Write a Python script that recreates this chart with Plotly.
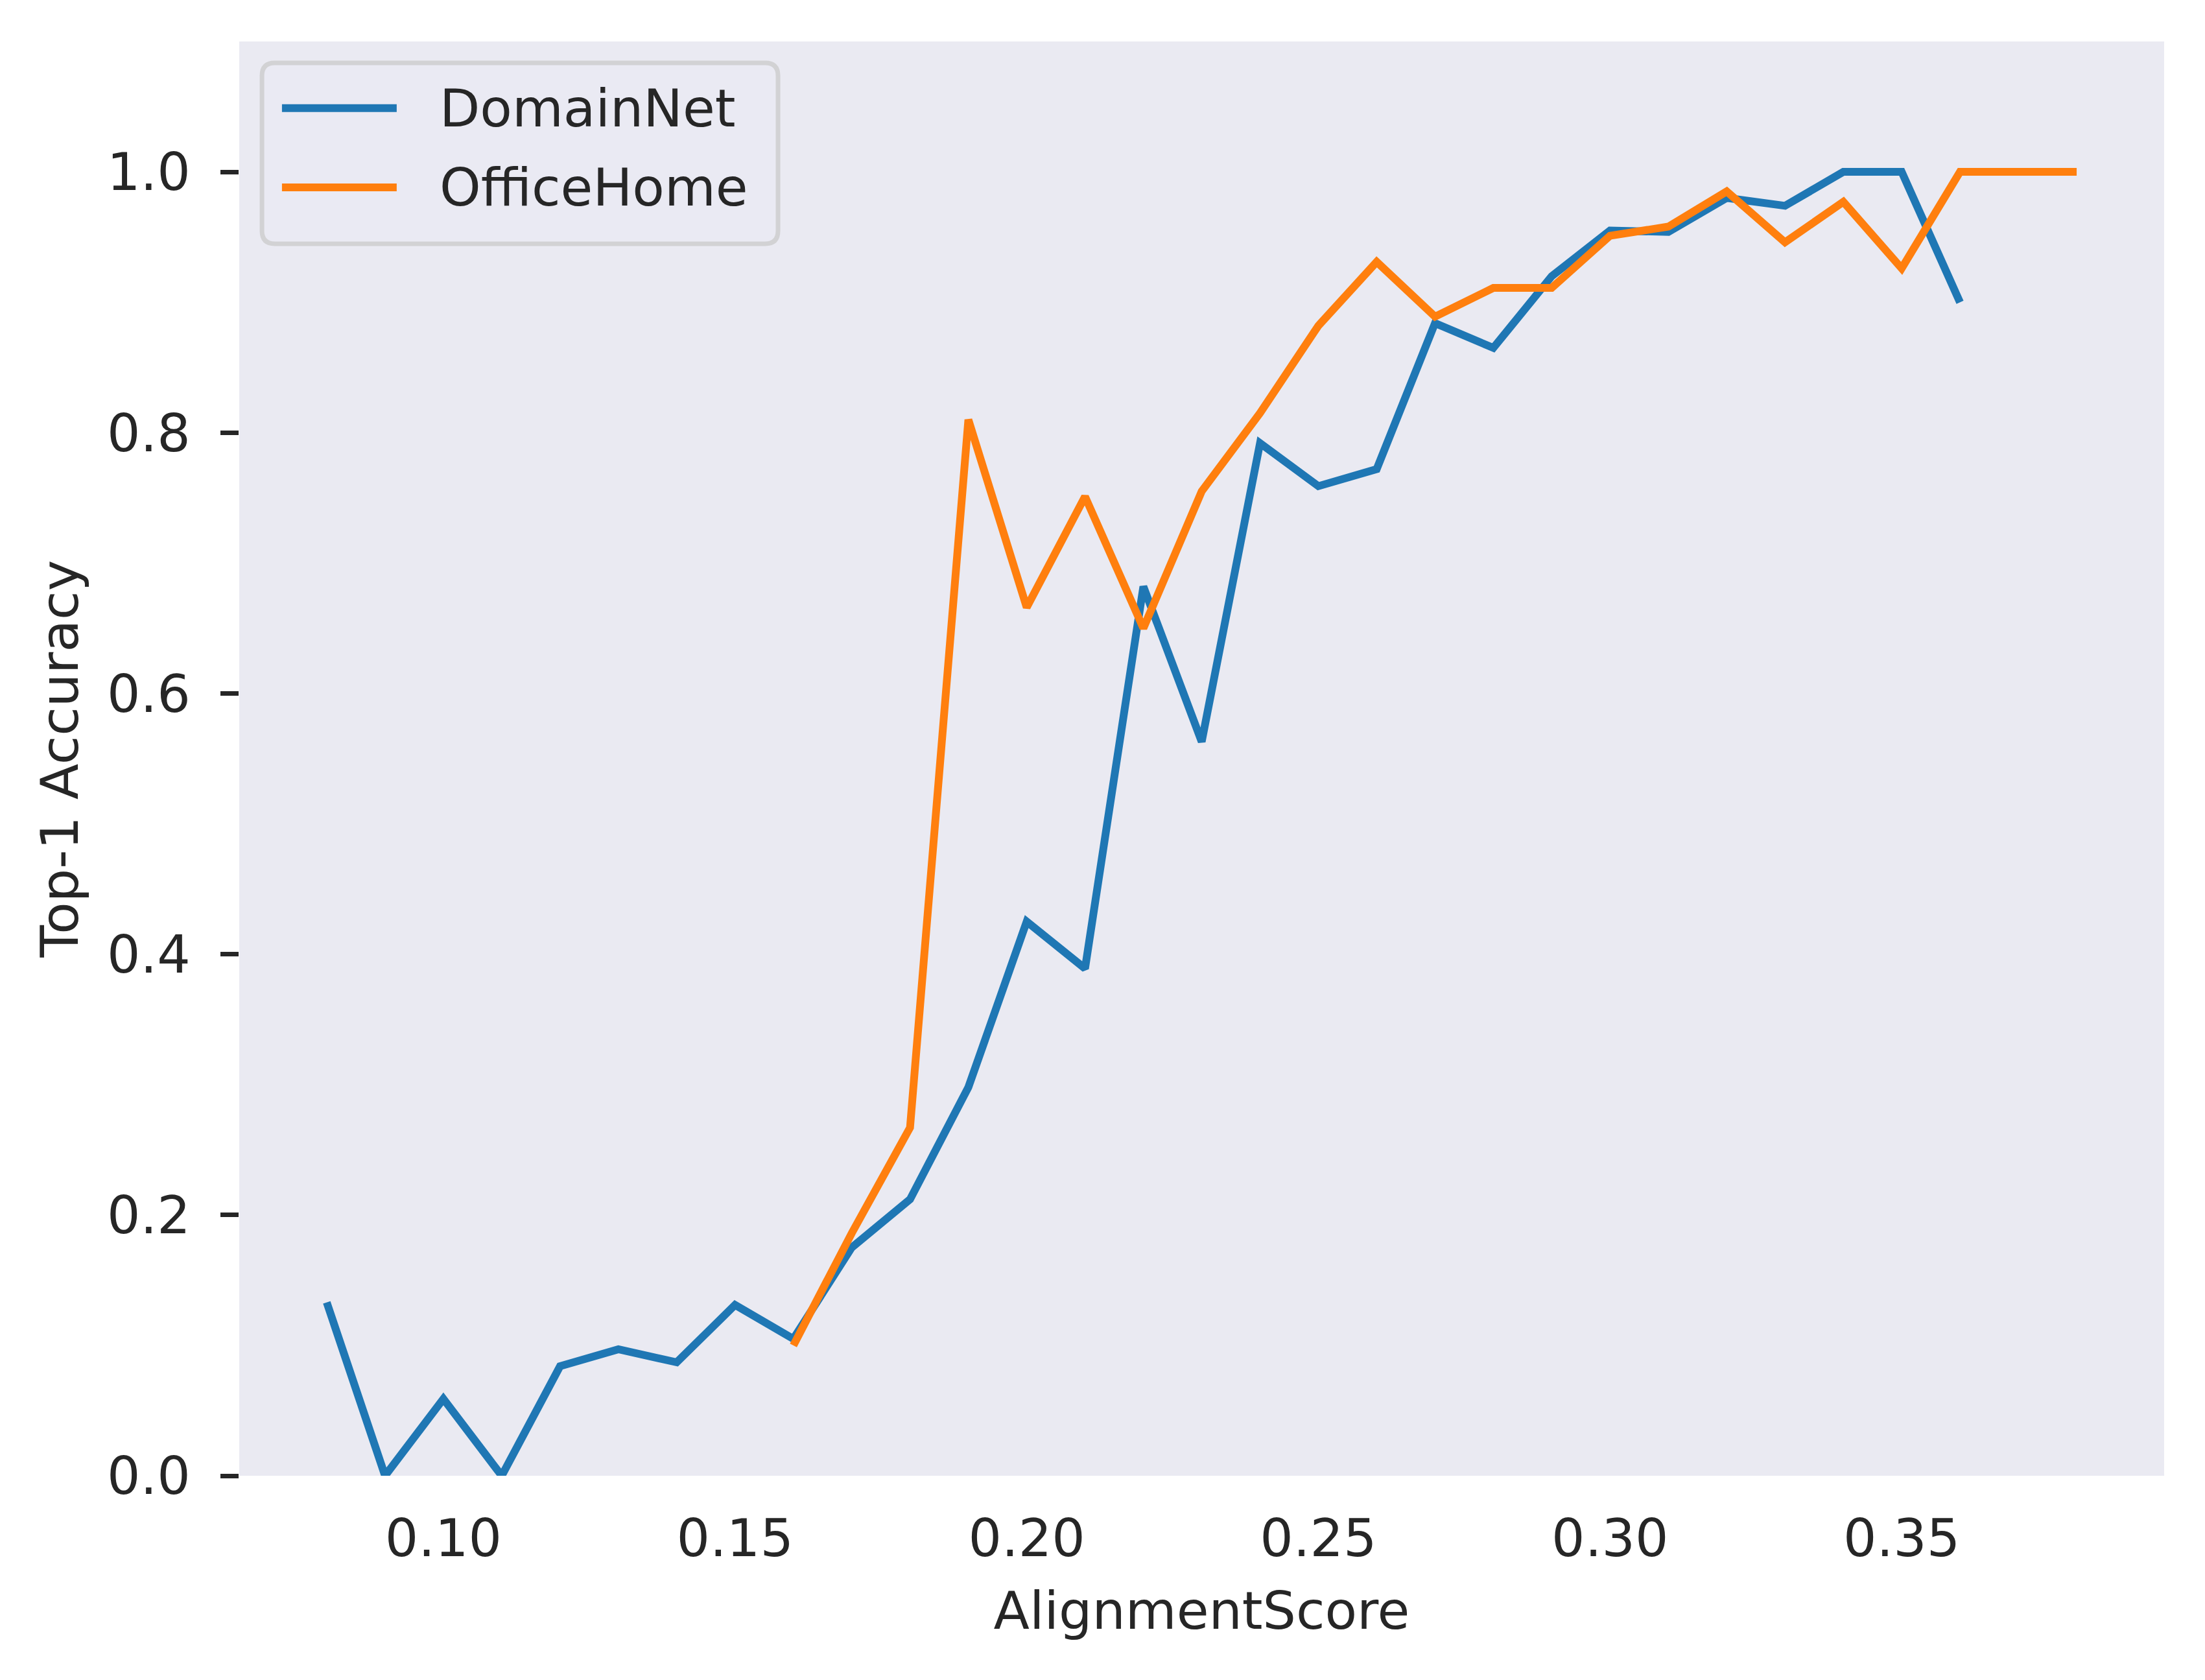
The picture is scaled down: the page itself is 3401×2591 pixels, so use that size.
import plotly.graph_objects as go

# alignment score bins
domainnet_x = [0.08, 0.09, 0.10, 0.11, 0.12, 0.13, 0.14, 0.15, 0.16, 0.17,
               0.18, 0.19, 0.20, 0.21, 0.22, 0.23, 0.24, 0.25, 0.26, 0.27,
               0.28, 0.29, 0.30, 0.31, 0.32, 0.33, 0.34, 0.35, 0.36]
domainnet_acc = [0.133, 0.0, 0.059, 0.0, 0.084, 0.097, 0.087, 0.131, 0.105, 0.175,
                 0.212, 0.298, 0.425, 0.389, 0.682, 0.563, 0.792, 0.759, 0.772, 0.884,
                 0.865, 0.920, 0.955, 0.954, 0.980, 0.974, 1.0, 1.0, 0.9]

officehome_x = [0.16, 0.17, 0.18, 0.19, 0.20, 0.21, 0.22, 0.23, 0.24, 0.25,
                0.26, 0.27, 0.28, 0.29, 0.30, 0.31, 0.32, 0.33, 0.34, 0.35,
                0.36, 0.37, 0.38]
officehome_acc = [0.1, 0.186, 0.267, 0.81, 0.666, 0.751, 0.65, 0.755, 0.815, 0.882,
                  0.931, 0.889, 0.911, 0.911, 0.951, 0.958, 0.985, 0.946, 0.977, 0.926,
                  1.0, 1.0, 1.0]

x_ticks = [0.10, 0.15, 0.20, 0.25, 0.30, 0.35]
y_ticks = [0.0, 0.2, 0.4, 0.6, 0.8, 1.0]

BLUE = '#1f77b4'
ORANGE = '#ff7f0e'
TEXT = '#262626'
FONT = 'DejaVu Sans'

fig = go.Figure()
fig.add_trace(go.Scatter(x=domainnet_x, y=domainnet_acc, mode='lines', name='DomainNet',
                         line=dict(color=BLUE, width=12), showlegend=False))
fig.add_trace(go.Scatter(x=officehome_x, y=officehome_acc, mode='lines', name='OfficeHome',
                         line=dict(color=ORANGE, width=12), showlegend=False))

# hand-drawn legend box, matplotlib style (rounded frame, long line samples)
x0, x1, y0, y1 = 0.0118, 0.2799, 0.859, 0.9851
rx, ry = 0.0067, 0.009
legend_path = (f'M {x0+rx},{y1} L {x1-rx},{y1} Q {x1},{y1} {x1},{y1-ry} '
               f'L {x1},{y0+ry} Q {x1},{y0} {x1-rx},{y0} '
               f'L {x0+rx},{y0} Q {x0},{y0} {x0},{y0+ry} '
               f'L {x0},{y1-ry} Q {x0},{y1} {x0+rx},{y1} Z')
fig.add_shape(type='path', path=legend_path, xref='paper', yref='paper',
              fillcolor='rgba(234,234,242,0.8)', line=dict(color='rgba(204,204,204,0.8)', width=7))
for name, color, ly in [('DomainNet', BLUE, 0.9535), ('OfficeHome', ORANGE, 0.8983)]:
    fig.add_shape(type='line', xref='paper', yref='paper', x0=0.0222, x1=0.0818, y0=ly, y1=ly,
                  line=dict(color=color, width=12))
    fig.add_annotation(text=name, xref='paper', yref='paper', x=0.1035, y=ly,
                       xanchor='left', yanchor='middle', showarrow=False,
                       font=dict(family=FONT, size=81, color=TEXT))

fig.update_layout(
    width=3401, height=2591,
    margin=dict(l=361, r=71, t=56, b=323),
    plot_bgcolor='#EAEAF2',
    paper_bgcolor='white',
    font=dict(family=FONT, size=81, color=TEXT),
    showlegend=False,
)
fig.update_xaxes(
    range=[0.065, 0.395], tickvals=x_ticks, ticktext=[f'{v:.2f}' for v in x_ticks],
    showgrid=False, zeroline=False, showline=False,
    ticks='outside', ticklen=20, tickcolor='rgba(0,0,0,0)', ticklabelstandoff=6,
    title=dict(text='AlignmentScore', standoff=37, font=dict(size=81)),
)
fig.update_yaxes(
    range=[0, 1.1], tickvals=y_ticks, ticktext=[f'{v:.1f}' for v in y_ticks],
    showgrid=False, zeroline=False, showline=False,
    ticks='outside', ticklen=28, tickwidth=7, tickcolor=TEXT, ticklabelstandoff=30,
    title=dict(text='Top-1 Accuracy', standoff=17, font=dict(size=81)),
)

fig.write_html('out.html')
